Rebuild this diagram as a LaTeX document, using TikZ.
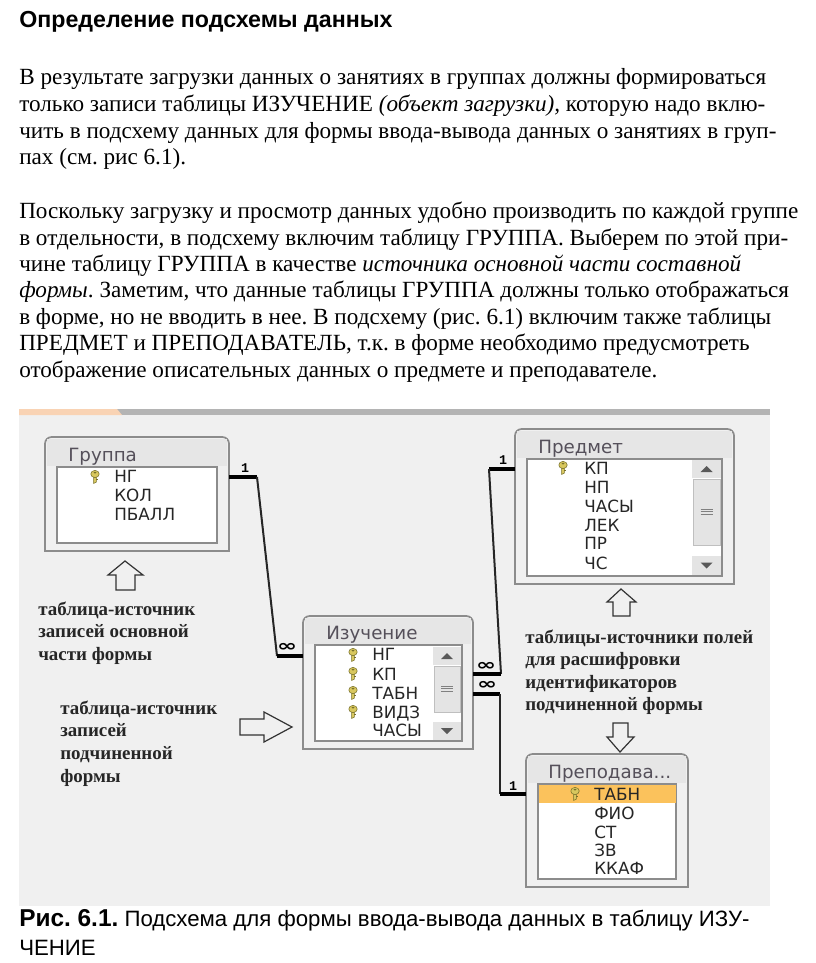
\documentclass[tikz,border=0pt]{standalone}
\usepackage{fontspec}
\usepackage{graphicx}
\setmainfont{Liberation Serif}
\newfontfamily\hd{Liberation Sans}
\newfontfamily\ui{DejaVu Sans}
\newfontfamily\cardf{Liberation Mono}
\frenchspacing
\usetikzlibrary{fit}
\definecolor{panelbg}{HTML}{F0F0F0}
\definecolor{barg}{HTML}{B4B4B4}
\definecolor{baro}{HTML}{F9D3B4}
\definecolor{frameg}{HTML}{8C8C8C}
\definecolor{hdrg}{HTML}{E6E6E6}
\definecolor{sbg}{HTML}{E4E4E4}
\definecolor{hilite}{HTML}{FBC25C}
\definecolor{keyy}{HTML}{D8C75E}
\definecolor{keyo}{HTML}{77702A}
\definecolor{titleg}{HTML}{55505A}
\newcommand\tx[4]{\node[anchor=base west,inner sep=0pt,#4] (#1) at (#2) {#3};}
\newcommand\keyic[1]{\begin{scope}[shift={(#1)}]
 \fill[keyy,draw=keyo,line width=.4pt] (-1.4,0) -- (1.4,0) -- (1.4,7) -- (-1.4,8.5) -- cycle;
 \fill[keyo] (1.4,3.5) -- (3,3.5) -- (3,5) -- (1.4,5) -- cycle;
 \fill[keyy,draw=keyo,line width=.4pt] (0,-1) ellipse (4.2 and 3.6);
 \fill[keyo] (0,-2.4) ellipse (1.5 and .9);
\end{scope}}
\newcommand\tbl[9]{% name x0 y0 x1 y1 ix0 iy0 ix1 iy1
 \draw[frameg,line width=1.3pt,fill=panelbg] (#2,#5) [rounded corners=5pt] -- (#2,#3) -- (#4,#3) [sharp corners] -- (#4,#5) -- cycle;
 \fill[hdrg] (#2+2,#3+2) rectangle (#4-2,#7-1);
 \draw[frameg,line width=.8pt,fill=white] (#6,#7) rectangle (#8,#9);
 \node[inner sep=0pt,fit={(#2,#3)(#4,#5)}] (#1) {};}
\newcommand\sbar[7]{% x0 x1 upTop upBot thumbBot downTop downBot
 \fill[sbg] (#1,#3) rectangle (#2,#4);
 \fill[sbg,draw=gray!50,line width=.5pt] (#1+1,#4+1) rectangle (#2-1,#5);
 \fill[sbg] (#1,#6) rectangle (#2,#7);
 \fill[gray!70!black] ({(#1+#2)/2-6},{(#3+#4)/2+3}) -- ({(#1+#2)/2+6},{(#3+#4)/2+3}) -- ({(#1+#2)/2},{(#3+#4)/2-3}) -- cycle;
 \fill[gray!70!black] ({(#1+#2)/2-6},{(#6+#7)/2-3}) -- ({(#1+#2)/2+6},{(#6+#7)/2-3}) -- ({(#1+#2)/2},{(#6+#7)/2+3}) -- cycle;
 \foreach \k in {-2.5,0,2.5} \draw[gray,line width=.5pt] ({(#1+#2)/2-6},{(#4+#5)/2+\k}) -- ({(#1+#2)/2+6},{(#4+#5)/2+\k});}
\tikzset{
 body/.style={font=\fontsize{17.38pt}{20pt}\selectfont},
 head/.style={font=\hd\bfseries\fontsize{17.4pt}{20pt}\selectfont},
 capt/.style={font=\hd\fontsize{16.66pt}{20pt}\selectfont},
 note/.style={font=\bfseries\fontsize{14.2pt}{17pt}\selectfont,text=black!85},
 fld/.style={font=\ui\fontsize{12.6pt}{14pt}\selectfont,text=black!85},
 ttl/.style={font=\ui\fontsize{13.7pt}{15pt}\selectfont,text=titleg},
 card/.style={font=\cardf\bfseries\fontsize{10pt}{11pt}\selectfont},
 inf/.style={font=\ui\bfseries\fontsize{12pt}{12pt}\selectfont},
 arrowline/.style={draw=black!80,line width=.9pt,fill=panelbg,line join=miter},
 thickc/.style={line width=2.6pt,line cap=butt},
 thinc/.style={line width=1.5pt,black!85},
}
\begin{document}
\begin{tikzpicture}[x=0.75pt,y=-0.75pt]
\useasboundingbox (0,0) rectangle (816,963);
\fill[white] (0,0) rectangle (816,963);
% text
\tx{h}{19,28}{Определение подсхемы данных}{head}
\tx{a1}{19,85}{В результате загрузки данных о занятиях в группах должны формироваться}{body}
\tx{a2}{19,112}{только записи таблицы ИЗУЧЕНИЕ \textit{(объект загрузки),} которую надо вклю-}{body}
\tx{a3}{19,139}{чить в подсхему данных для формы ввода-вывода данных о занятиях в груп-}{body}
\tx{a4}{19,165}{пах (см. рис 6.1).}{body}
\tx{b1}{19,218}{Поскольку загрузку и просмотр данных удобно производить по каждой группе}{body}
\tx{b2}{19,245}{в отдельности, в подсхему включим таблицу ГРУППА. Выберем по этой при-}{body}
\tx{b3}{19,271}{чине таблицу ГРУППА в качестве \textit{источника основной части составной}}{body}
\tx{b4}{19,297}{\textit{формы}. Заметим, что данные таблицы ГРУППА должны только отображаться}{body}
\tx{b5}{19,324}{в форме, но не вводить в нее. В подсхему (рис. 6.1) включим также таблицы}{body}
\tx{b6}{19,350}{ПРЕДМЕТ и ПРЕПОДАВАТЕЛЬ, т.к. в форме необходимо предусмотреть}{body}
\tx{b7}{19,377}{отображение описательных данных о предмете и преподавателе.}{body}
% panel
\fill[panelbg] (19,409) rectangle (770,906);
\fill[barg] (19,409) rectangle (770,415);
\fill[baro] (19,409) -- (117,409) -- (122,415) -- (19,415) -- cycle;
% tables
\tbl{gr}{45}{437}{229}{551}{57}{467}{217}{543}
\tbl{pr}{515}{429}{734}{584}{527}{459}{722}{576}
\tbl{iz}{303}{616}{473}{749}{315}{645}{462}{741}
\tbl{pp}{526}{754}{688}{887}{538}{784}{676}{879}
\fill[hilite] (538.5,784.5) rectangle (675.5,803);
\sbar{692}{721}{460}{478}{545}{556}{575}
\sbar{433}{461}{647}{665}{712}{722}{740}
% titles
\tx{t1}{68,461}{Группа}{ttl}
\tx{t2}{538,453}{Предмет}{ttl}
\tx{t3}{326,639}{Изучение}{ttl}
\tx{t4}{548,778}{Преподава...}{ttl}
% fields
\tx{f1}{114,482}{НГ}{fld}\tx{f2}{114,501}{КОЛ}{fld}\tx{f3}{114,520}{ПБАЛЛ}{fld}
\tx{f4}{584,474}{КП}{fld}\tx{f5}{584,493}{НП}{fld}\tx{f6}{584,512}{ЧАСЫ}{fld}\tx{f7}{584,531}{ЛЕК}{fld}\tx{f8}{584,549}{ПР}{fld}\tx{f9}{584,569}{ЧС}{fld}
\tx{f10}{372,660}{НГ}{fld}\tx{f11}{372,680}{КП}{fld}\tx{f12}{372,699}{ТАБН}{fld}\tx{f13}{372,718}{ВИДЗ}{fld}\tx{f14}{372,736}{ЧАСЫ}{fld}
\tx{f15}{594,800}{ТАБН}{fld}\tx{f16}{594,819}{ФИО}{fld}\tx{f17}{594,838}{СТ}{fld}\tx{f18}{594,856}{ЗВ}{fld}\tx{f19}{594,874}{ККАФ}{fld}
% keys
\keyic{95,475}\keyic{563,466}\keyic{353,653}\keyic{353,672}\keyic{353,691}\keyic{353,710}\keyic{575,792}
% connectors
\coordinate (c1a) at (229,477);\coordinate (c1b) at (257,477);\coordinate (c1c) at (277,656);\coordinate (c1d) at (303,656);
\draw[thickc] (c1a) -- (c1b);\draw[thinc] (c1b) -- (c1c);\draw[thickc] (c1c) -- (c1d);
\coordinate (c2a) at (515,469);\coordinate (c2b) at (489,469);\coordinate (c2c) at (501,674);\coordinate (c2d) at (473,674);
\draw[thickc] (c2a) -- (c2b);\draw[thinc] (c2b) -- (c2c);\draw[thickc] (c2c) -- (c2d);
\coordinate (c3a) at (473,694);\coordinate (c3b) at (500,694);\coordinate (c3c) at (500,794);\coordinate (c3d) at (526,794);
\draw[thickc] (c3a) -- (c3b);\draw[thinc] (c3b) -- (c3c);\draw[thickc] (c3c) -- (c3d);
\node[card] (n1) at (245,468) {1};
\node[card] (n2) at (503,460) {1};
\node[card] (n3) at (513,786) {1};
\node[inf] (i1) at (287,647) {\scalebox{1.5}[1]{∞}};
\node[inf] (i2) at (486,666) {\scalebox{1.5}[1]{∞}};
\node[inf] (i3) at (487,685) {\scalebox{1.5}[1]{∞}};
% block arrows
\draw[arrowline] (125,561) -- (143,575) -- (135,575) -- (135,590) -- (116,590) -- (116,575) -- (108,575) -- cycle;
\draw[arrowline] (621,589) -- (636,602) -- (630,602) -- (630,616) -- (613,616) -- (613,602) -- (607,602) -- cycle;
\draw[arrowline] (620,752) -- (634,737) -- (628,737) -- (628,723) -- (613,723) -- (613,737) -- (607,737) -- cycle;
\draw[arrowline] (292,727) -- (264,712) -- (264,719) -- (240,719) -- (240,735) -- (264,735) -- (264,742) -- cycle;
% notes
\tx{m1}{38,615}{таблица-источник}{note}
\tx{m2}{38,637}{записей основной}{note}
\tx{m3}{38,660}{части формы}{note}
\tx{m4}{60,714}{таблица-источник}{note}
\tx{m5}{60,736}{записей}{note}
\tx{m6}{60,759}{подчиненной}{note}
\tx{m7}{60,782}{формы}{note}
\tx{m8}{525,643}{таблицы-источники полей}{note}
\tx{m9}{525,665}{для расшифровки}{note}
\tx{m10}{525,688}{идентификаторов}{note}
\tx{m11}{525,710}{подчиненной формы}{note}
% caption
\tx{k1}{19,926}{{\bfseries\fontsize{18.3pt}{20pt}\selectfont Рис. 6.1.} Подсхема для формы ввода-вывода данных в таблицу ИЗУ-}{capt}
\tx{k2}{19,955}{ЧЕНИЕ}{capt}
\end{tikzpicture}
\end{document}
